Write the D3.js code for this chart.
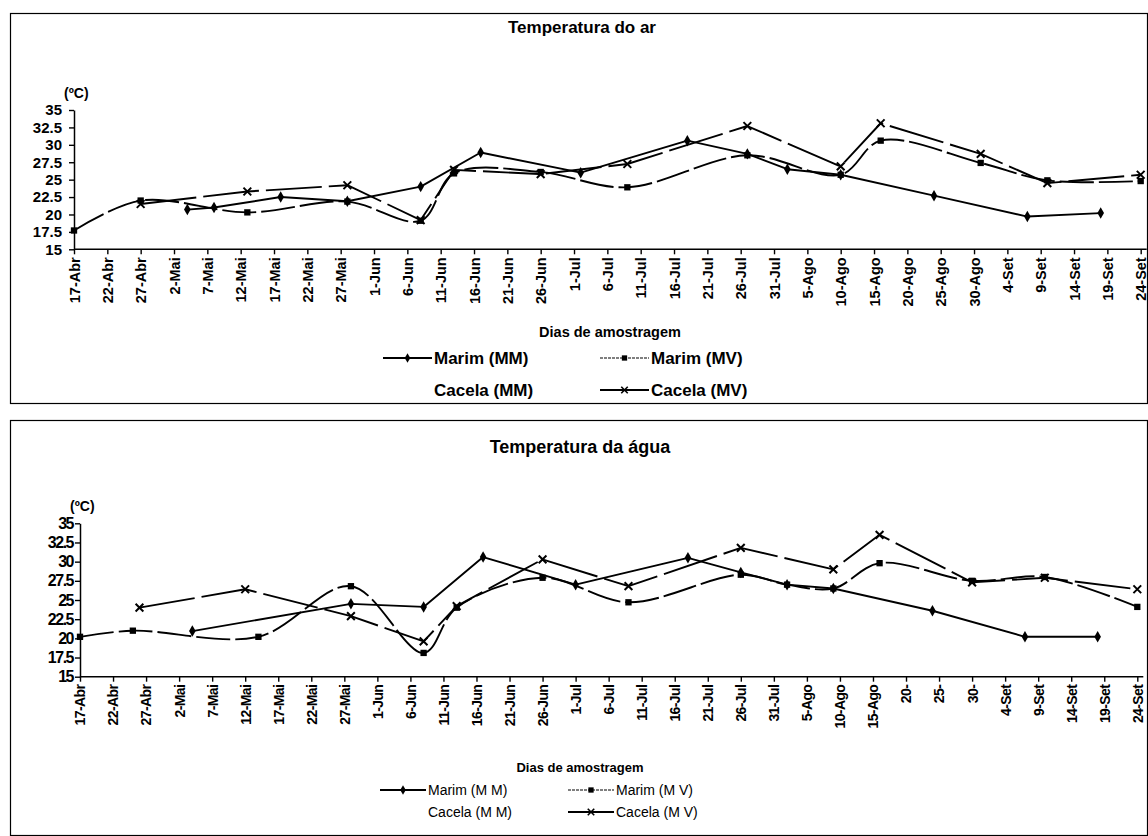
<!DOCTYPE html>
<html><head><meta charset="utf-8">
<script src="https://cdn.jsdelivr.net/npm/d3@7"></script>
<style>
body{margin:0;background:#fff}
svg{display:block}
text{font-family:"Liberation Sans",Arial,Helvetica,sans-serif;fill:#000}
</style>
</head><body>
<svg id="c" width="1148" height="836"></svg>
<script>
// ---------- data ----------
const tickLabelsAr = ["17-Abr","22-Abr","27-Abr","2-Mai","7-Mai","12-Mai","17-Mai","22-Mai","27-Mai","1-Jun","6-Jun","11-Jun","16-Jun","21-Jun","26-Jun","1-Jul","6-Jul","11-Jul","16-Jul","21-Jul","26-Jul","31-Jul","5-Ago","10-Ago","15-Ago","20-Ago","25-Ago","30-Ago","4-Set","9-Set","14-Set","19-Set","24-Set"];
const tickLabelsAgua = ["17-Abr","22-Abr","27-Abr","2-Mai","7-Mai","12-Mai","17-Mai","22-Mai","27-Mai","1-Jun","6-Jun","11-Jun","16-Jun","21-Jun","26-Jun","1-Jul","6-Jul","11-Jul","16-Jul","21-Jul","26-Jul","31-Jul","5-Ago","10-Ago","15-Ago","20-","25-","30-","4-Set","9-Set","14-Set","19-Set","24-Set"];
const yTickValues = [15,17.5,20,22.5,25,27.5,30,32.5,35];
const yTickLabels = ["15","17.5","20","22.5","25","27.5","30","32.5","35"];
const seriesNames = ["Marim (MM)","Marim (MV)","Cacela (MM)","Cacela (MV)"];
const seriesNamesAgua = ["Marim (M M)","Marim (M V)","Cacela (M M)","Cacela (M V)"];

// Temperatura do ar
const arMarimMMDates = ["2003-05-04","2003-05-08","2003-05-18","2003-05-28","2003-06-08","2003-06-17","2003-07-02","2003-07-18","2003-07-27","2003-08-02","2003-08-10","2003-08-24","2003-09-07","2003-09-18"];
const arMarimMMValues = [20.7,21.0,22.5,21.9,24.0,28.9,26.0,30.6,28.7,26.5,25.7,22.7,19.7,20.2];
const arMarimMVDates = ["2003-04-17","2003-04-27","2003-05-13","2003-05-28","2003-06-08","2003-06-13","2003-06-26","2003-07-09","2003-07-27","2003-08-10","2003-08-16","2003-08-31","2003-09-10","2003-09-24"];
const arMarimMVValues = [17.7,22.0,20.3,21.85,19.1,25.9,26.1,23.9,28.5,25.7,30.6,27.4,24.9,24.8];
const arCacelaMMDates = [];
const arCacelaMMValues = [];
const arCacelaMVDates = ["2003-04-27","2003-05-13","2003-05-28","2003-06-08","2003-06-13","2003-06-26","2003-07-09","2003-07-27","2003-08-10","2003-08-16","2003-08-31","2003-09-10","2003-09-24"];
const arCacelaMVValues = [21.5,23.3,24.2,19.2,26.4,25.8,27.25,32.7,26.9,33.1,28.7,24.5,25.7];

// Temperatura da água
const aguaMarimMMDates = ["2003-05-04","2003-05-28","2003-06-08","2003-06-17","2003-07-01","2003-07-18","2003-07-26","2003-08-02","2003-08-09","2003-08-24","2003-09-07","2003-09-18"];
const aguaMarimMMValues = [20.95,24.5,24.1,30.6,27.0,30.5,28.6,27.0,26.5,23.6,20.2,20.2];
const aguaMarimMVDates = ["2003-04-17","2003-04-25","2003-05-14","2003-05-28","2003-06-08","2003-06-13","2003-06-26","2003-07-09","2003-07-26","2003-08-02","2003-08-09","2003-08-16","2003-08-30","2003-09-10","2003-09-24"];
const aguaMarimMVValues = [20.2,21.0,20.2,26.8,18.1,24.0,27.9,24.7,28.3,27.0,26.5,29.8,27.5,28.0,24.1];
const aguaCacelaMMDates = [];
const aguaCacelaMMValues = [];
const aguaCacelaMVDates = ["2003-04-26","2003-05-12","2003-05-28","2003-06-08","2003-06-13","2003-06-26","2003-07-09","2003-07-26","2003-08-09","2003-08-16","2003-08-30","2003-09-10","2003-09-24"];
const aguaCacelaMVValues = [24.0,26.4,22.9,19.6,24.2,30.3,26.8,31.8,29.0,33.5,27.3,27.9,26.4];

// ---------- drawing ----------
const parse = d3.timeParse("%Y-%m-%d");
const startDate = parse("2003-04-17");
const endDate = parse("2003-09-24");
const svg = d3.select("#c");

const symX = {draw(ctx, size){const r = Math.sqrt(size)/2; ctx.moveTo(-r,-r); ctx.lineTo(r,r); ctx.moveTo(r,-r); ctx.lineTo(-r,r);}};
const styles = [
  {sym: d3.symbolDiamond, size: 38, fill: "#000", stroke: "none", dash: null, width: 1.9, curve: d3.curveLinear},
  {sym: d3.symbolSquare, size: 40, fill: "#000", stroke: "none", dash: "34,5", width: 1.9, curve: d3.curveCatmullRom.alpha(0.5)},
  {sym: null, size: 0, fill: "none", stroke: "none", dash: null, width: 0, curve: d3.curveLinear},
  {sym: symX, size: 60, fill: "none", stroke: "#000", dash: "56,7", width: 1.9, curve: d3.curveLinear}
];

function drawChart(cfg){
  const g = svg.append("g");
  g.append("rect").attr("x", cfg.frame[0]+0.5).attr("y", cfg.frame[1]+0.5)
    .attr("width", cfg.frame[2]).attr("height", cfg.frame[3])
    .attr("fill","none").attr("stroke","#000").attr("stroke-width",1.2);
  g.append("text").attr("x", cfg.titleX).attr("y", cfg.titleY).attr("text-anchor","middle")
    .attr("font-weight","bold").attr("font-size", cfg.titleSize).text(cfg.title);

  const x = d3.scaleTime().domain([startDate, endDate]).range(cfg.xRange);
  const y = d3.scaleLinear().domain([15,35]).range(cfg.yRange);

  const tickDates = cfg.tickLabels.map((_, i) => d3.timeDay.offset(startDate, 5*i));
  const xAxis = d3.axisBottom(x).tickValues(tickDates).tickSize(5).tickSizeOuter(0)
    .tickFormat((d,i) => cfg.tickLabels[i]);
  const gx = g.append("g").attr("transform", `translate(0,${cfg.yRange[0]})`).call(xAxis);
  gx.select(".domain").attr("stroke","#000").attr("stroke-width",1.5)
    .attr("d", `M${cfg.xRange[0]},0H${cfg.xRange[1]+6}`);
  gx.selectAll(".tick line").attr("stroke","#000").attr("stroke-width",1.4);
  gx.selectAll(".tick text").attr("transform","rotate(-90)")
    .attr("text-anchor","end").attr("x", -8).attr("y", 0).attr("dy","0.35em")
    .attr("font-size", cfg.xTickSize).attr("font-weight","bold")
    .attr("letter-spacing", cfg.xTickSpacing).attr("font-family",'"Liberation Sans",Arial,sans-serif');

  const yAxis = d3.axisLeft(y).tickValues(yTickValues).tickSize(5).tickSizeOuter(0)
    .tickFormat((d,i) => yTickLabels[i]);
  const gy = g.append("g").attr("transform", `translate(${cfg.xRange[0]},0)`).call(yAxis);
  gy.select(".domain").attr("stroke","#000").attr("stroke-width",1.5);
  gy.selectAll(".tick line").attr("stroke","#000").attr("stroke-width",1.4);
  gy.selectAll(".tick text").attr("x", cfg.yLabelOffset).attr("font-size", cfg.yTickSize).attr("font-weight","bold")
    .attr("letter-spacing", cfg.yTickSpacing).attr("font-family",'"Liberation Sans",Arial,sans-serif');

  g.append("text").attr("x", cfg.xRange[0]-10).attr("y", cfg.yRange[1]-12)
    .attr("font-weight","bold").attr("font-size", cfg.unitSize).text("(ºC)");

  cfg.series.forEach((s, k) => {
    const st = styles[k];
    const pts = s.dates.map((d,i) => ({d: parse(d), v: s.values[i]}));
    if (!pts.length || !st.sym) return;
    const line = d3.line().x(p => x(p.d)).y(p => y(p.v)).curve(st.curve);
    g.append("path").datum(pts).attr("d", line).attr("fill","none")
      .attr("stroke","#000").attr("stroke-width", st.width)
      .attr("stroke-dasharray", st.dash).attr("stroke-linejoin","round");
    g.selectAll(null).data(pts).enter().append("path")
      .attr("transform", p => `translate(${x(p.d)},${y(p.v)})`)
      .attr("d", d3.symbol().type(st.sym).size(st.size))
      .attr("fill", st.fill).attr("stroke", st.stroke).attr("stroke-width", 2);
  });

  g.append("text").attr("x", cfg.axisTitleX).attr("y", cfg.axisTitleY).attr("text-anchor","middle")
    .attr("font-weight","bold").attr("font-size", cfg.axisTitleSize).text("Dias de amostragem");

  // legend
  cfg.names.forEach((name, k) => {
    const st = styles[k];
    const col = k % 2, row = Math.floor(k/2);
    const lx = cfg.legendX[col], ly = cfg.legendY[row];
    if (st.sym) {
      g.append("line").attr("x1", lx).attr("x2", lx + cfg.legendLine).attr("y1", ly).attr("y2", ly)
        .attr("stroke", "#000").attr("stroke-width", k === 1 ? 1.2 : 1.8)
        .attr("stroke-dasharray", k === 1 ? "3,1" : null);
      g.append("path").attr("transform", `translate(${lx + cfg.legendLine/2},${ly})`)
        .attr("d", d3.symbol().type(st.sym).size(st.size*0.7))
        .attr("fill", st.fill).attr("stroke", st.stroke).attr("stroke-width", 1.6);
    }
    g.append("text").attr("x", lx + cfg.legendLine + 2).attr("y", ly).attr("dy","0.35em")
      .attr("font-weight", cfg.legendWeight).attr("font-size", cfg.legendSize).text(name);
  });
}

drawChart({
  frame: [10, 13, 1137, 390],
  title: "Temperatura do ar", titleX: 582, titleY: 33, titleSize: 17,
  xRange: [74, 1140.7], yRange: [249.3, 110],
  tickLabels: tickLabelsAr, xTickSize: 14.5, xTickSpacing: 0, yTickSize: 15, yTickSpacing: 0,
  yLabelOffset: -12,
  unitSize: 14,
  series: [
    {dates: arMarimMMDates, values: arMarimMMValues},
    {dates: arMarimMVDates, values: arMarimMVValues},
    {dates: arCacelaMMDates, values: arCacelaMMValues},
    {dates: arCacelaMVDates, values: arCacelaMVValues}
  ],
  axisTitleX: 610, axisTitleY: 337, axisTitleSize: 14.5,
  names: seriesNames, legendX: [383, 600], legendY: [358, 390], legendLine: 49,
  legendSize: 17, legendWeight: "bold"
});

drawChart({
  frame: [10, 420, 1137, 415],
  title: "Temperatura da água", titleX: 580, titleY: 453, titleSize: 18,
  xRange: [80, 1137.3], yRange: [676.7, 523.3],
  tickLabels: tickLabelsAgua, xTickSize: 14, xTickSpacing: -0.6, yTickSize: 16, yTickSpacing: -1.5,
  yLabelOffset: -7,
  unitSize: 14,
  series: [
    {dates: aguaMarimMMDates, values: aguaMarimMMValues},
    {dates: aguaMarimMVDates, values: aguaMarimMVValues},
    {dates: aguaCacelaMMDates, values: aguaCacelaMMValues},
    {dates: aguaCacelaMVDates, values: aguaCacelaMVValues}
  ],
  axisTitleX: 580, axisTitleY: 772, axisTitleSize: 13,
  names: seriesNamesAgua, legendX: [380, 568], legendY: [790, 812], legendLine: 46,
  legendSize: 14, legendWeight: "normal"
});
</script>
</body></html>
